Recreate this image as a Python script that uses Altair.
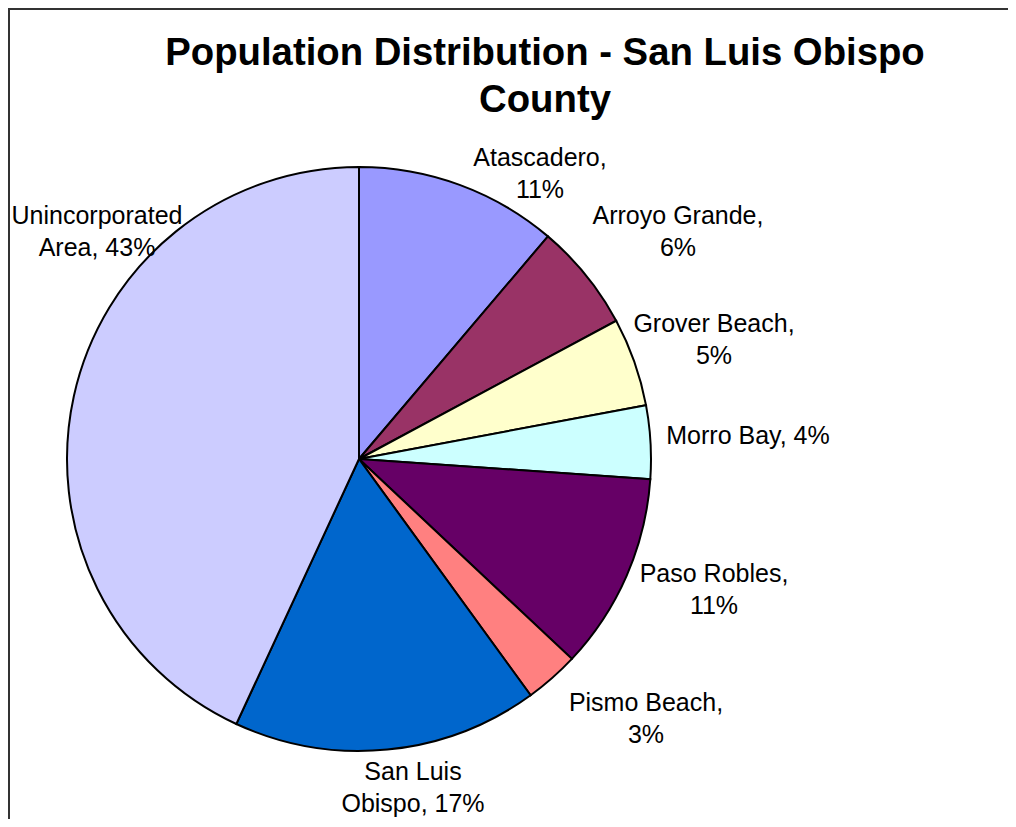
import altair as alt
import pandas as pd

# ---- data ----
names = ["Atascadero", "Arroyo Grande", "Grover Beach", "Morro Bay",
         "Paso Robles", "Pismo Beach", "San Luis Obispo", "Unincorporated Area"]
shares = [11.2, 5.95, 4.9, 4.05, 10.9, 3.0, 16.9, 43.1]
label_lines = [["Atascadero,", "{p}%"], ["Arroyo Grande,", "{p}%"],
               ["Grover Beach,", "{p}%"], ["Morro Bay, {p}%"],
               ["Paso Robles,", "{p}%"], ["Pismo Beach,", "{p}%"],
               ["San Luis", "Obispo, {p}%"], ["Unincorporated", "Area, {p}%"]]
colors = ["#9999FF", "#993366", "#FFFFCC", "#CCFFFF",
          "#660066", "#FF8080", "#0066CC", "#CCCCFF"]
title_lines = ["Population Distribution - San Luis Obispo", "County"]

# ---- layout (label anchors, chart pixel coordinates) ----
label_x = [532, 670, 706, 740, 706, 638, 405, 89]
label_y = [158, 216, 324, 436, 574, 703, 772, 216]
W, H = 1000, 811
CX, CY, R = 351, 451, 292
FONT = "Liberation Sans, Arial, sans-serif"

df = pd.DataFrame({
    "name": names,
    "share": shares,
    "idx": list(range(len(names))),
})
lab = pd.DataFrame({
    "name": names,
    "text": ["\n".join(l.format(p=round(s)) for l in lines)
             for lines, s in zip(label_lines, shares)],
    "lx": label_x,
    "ly": label_y,
})
ttl = pd.DataFrame({"text": ["\n".join(title_lines)]})

pie = alt.Chart(df).mark_arc(outerRadius=R, stroke="black", strokeWidth=2).encode(
    theta=alt.Theta("share:Q", stack=True),
    order=alt.Order("idx:Q"),
    color=alt.Color("name:N", scale=alt.Scale(domain=names, range=colors), legend=None),
    x=alt.value(CX),
    y=alt.value(CY),
)

labels = alt.Chart(lab).mark_text(
    font=FONT, fontSize=25, lineBreak="\n", lineHeight=32,
    align="center", baseline="alphabetic", color="black",
).encode(
    x=alt.X("lx:Q", scale=None),
    y=alt.Y("ly:Q", scale=None),
    text="text:N",
)

title = alt.Chart(ttl).mark_text(
    font=FONT, fontSize=38.3, fontWeight="bold", lineBreak="\n", lineHeight=47,
    align="center", baseline="alphabetic", color="black",
).encode(
    x=alt.value(537),
    y=alt.value(57),
    text="text:N",
)

frame_left = alt.Chart(df).mark_rule(color="#333333", strokeWidth=2).encode(
    x=alt.value(1), y=alt.value(0), y2=alt.value(H)
)
frame_top = alt.Chart(df).mark_rule(color="#333333", strokeWidth=2).encode(
    x=alt.value(0), x2=alt.value(W), y=alt.value(1)
)

chart = alt.layer(pie, labels, title, frame_left, frame_top).properties(
    width=W, height=H,
    autosize=alt.AutoSizeParams(type="none"),
    padding=0,
).configure_view(stroke=None)

chart.save("out.html", embed_options={"renderer": "svg", "actions": False})
